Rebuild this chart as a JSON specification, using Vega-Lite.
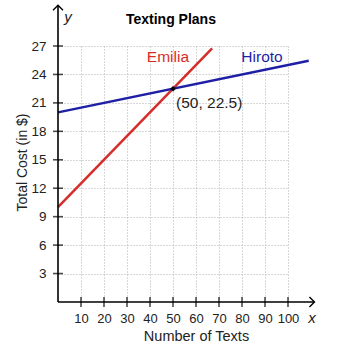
{
  "$schema": "https://vega.github.io/schema/vega-lite/v6.json",
  "width": 230,
  "height": 256,
  "autosize": {"type": "none"},
  "padding": {"left": 58, "top": 46, "right": 64, "bottom": 50},
  "background": "white",
  "config": {"view": {"stroke": null}, "font": "Liberation Sans"},
  "datasets": {
    "lines": [
      {"plan": "Emilia", "x": 0, "y": 10},
      {"plan": "Emilia", "x": 67, "y": 26.75},
      {"plan": "Hiroto", "x": 0, "y": 20},
      {"plan": "Hiroto", "x": 109, "y": 25.45}
    ],
    "axislines": [
      {"x": 0, "y": 0, "x2": 111.5, "y2": 0},
      {"x": 0, "y": 0, "x2": 0, "y2": 31.3}
    ],
    "xticks": [{"x": 10, "y": 0}, {"x": 20, "y": 0}, {"x": 30, "y": 0}, {"x": 40, "y": 0}, {"x": 50, "y": 0}, {"x": 60, "y": 0}, {"x": 70, "y": 0}, {"x": 80, "y": 0}, {"x": 90, "y": 0}, {"x": 100, "y": 0}],
    "yticks": [{"x": 0, "y": 3}, {"x": 0, "y": 6}, {"x": 0, "y": 9}, {"x": 0, "y": 12}, {"x": 0, "y": 15}, {"x": 0, "y": 18}, {"x": 0, "y": 21}, {"x": 0, "y": 24}, {"x": 0, "y": 27}],
    "labels": [
      {"plan": "Emilia", "x": 47.8, "y": 25.8, "text": "Emilia"},
      {"plan": "Hiroto", "x": 88.7, "y": 25.8, "text": "Hiroto"}
    ],
    "point": [{"x": 50, "y": 22.5, "text": "(50, 22.5)"}],
    "title": [{"x": 49.1, "y": 29.75, "text": "Texting Plans"}],
    "axisnames": [
      {"x": 110.4, "y": -1.7, "text": "x"},
      {"x": 4.3, "y": 30.05, "text": "y"}
    ],
    "xarrow": [{"x": 111.5, "y": 0}],
    "yarrow": [{"x": 0, "y": 31.3}]
  },
  "encoding": {
    "x": {"field": "x", "type": "quantitative", "scale": {"domain": [0, 100], "nice": false, "zero": false},
      "axis": {"values": [10, 20, 30, 40, 50, 60, 70, 80, 90, 100], "labelOverlap": false, "labelFlush": false, "domain": false, "ticks": false, "grid": true, "gridDash": [1, 2], "gridColor": "#b0b0b0", "gridWidth": 1,
        "labelFontSize": 13, "labelColor": "#222222", "labelPadding": 10, "title": "Number of Texts", "titleFontSize": 14.5, "titleFontWeight": "normal", "titleColor": "#222222", "titleX": 138, "titleY": 34, "titleBaseline": "middle", "titleAlign": "center"}},
    "y": {"field": "y", "type": "quantitative", "scale": {"domain": [0, 27], "nice": false, "zero": false},
      "axis": {"values": [3, 6, 9, 12, 15, 18, 21, 24, 27], "labelOverlap": false, "labelFlush": false, "domain": false, "ticks": false, "grid": true, "gridDash": [1, 2], "gridColor": "#b0b0b0", "gridWidth": 1,
        "labelFontSize": 13.5, "labelColor": "#222222", "labelPadding": 12, "title": "Total Cost (in $)", "titleFontSize": 14, "titleFontWeight": "normal", "titleColor": "#222222", "titleX": -36, "titleY": 116, "titleBaseline": "middle", "titleAlign": "center", "titleAngle": -90}}
  },
  "layer": [
    {
      "data": {"name": "lines"},
      "mark": {"type": "line", "strokeWidth": 2.5},
      "encoding": {
        "color": {"field": "plan", "type": "nominal", "scale": {"domain": ["Emilia", "Hiroto"], "range": ["#d62d2b", "#1f1fa6"]}, "legend": null},
        "detail": {"field": "plan"}
      }
    },
    {
      "data": {"name": "axislines"},
      "mark": {"type": "rule", "color": "black", "strokeWidth": 1.6},
      "encoding": {
        "x2": {"field": "x2"},
        "y2": {"field": "y2"}
      }
    },
    {
      "data": {"name": "xticks"},
      "mark": {"type": "tick", "orient": "vertical", "color": "black", "size": 10, "thickness": 1.6},
      "encoding": {}
    },
    {
      "data": {"name": "yticks"},
      "mark": {"type": "tick", "orient": "horizontal", "color": "black", "size": 10, "thickness": 1.6},
      "encoding": {}
    },
    {
      "data": {"name": "xarrow"},
      "mark": {"type": "point", "shape": "M-1,-1L0,0L-1,1", "filled": false, "size": 100, "stroke": "black", "strokeWidth": 1.4, "opacity": 1},
      "encoding": {}
    },
    {
      "data": {"name": "yarrow"},
      "mark": {"type": "point", "shape": "M-1,1L0,0L1,1", "filled": false, "size": 100, "stroke": "black", "strokeWidth": 1.4, "opacity": 1},
      "encoding": {}
    },
    {
      "data": {"name": "labels"},
      "mark": {"type": "text", "fontSize": 15.5, "align": "center", "baseline": "middle"},
      "encoding": {
        "text": {"field": "text"},
        "color": {"field": "plan", "type": "nominal", "legend": null}
      }
    },
    {
      "data": {"name": "point"},
      "mark": {"type": "point", "filled": true, "size": 30, "color": "black", "shape": "diamond", "opacity": 1},
      "encoding": {}
    },
    {
      "data": {"name": "point"},
      "mark": {"type": "text", "fontSize": 15.5, "align": "left", "baseline": "middle", "dx": 3, "dy": 14, "color": "#222222"},
      "encoding": {
        "text": {"field": "text"}
      }
    },
    {
      "data": {"name": "title"},
      "mark": {"type": "text", "fontSize": 14, "fontWeight": "bold", "align": "center", "baseline": "middle", "color": "black"},
      "encoding": {
        "text": {"field": "text"}
      }
    },
    {
      "data": {"name": "axisnames"},
      "mark": {"type": "text", "fontSize": 15, "fontStyle": "italic", "align": "center", "baseline": "middle", "color": "#222222"},
      "encoding": {
        "text": {"field": "text"}
      }
    }
  ]
}
